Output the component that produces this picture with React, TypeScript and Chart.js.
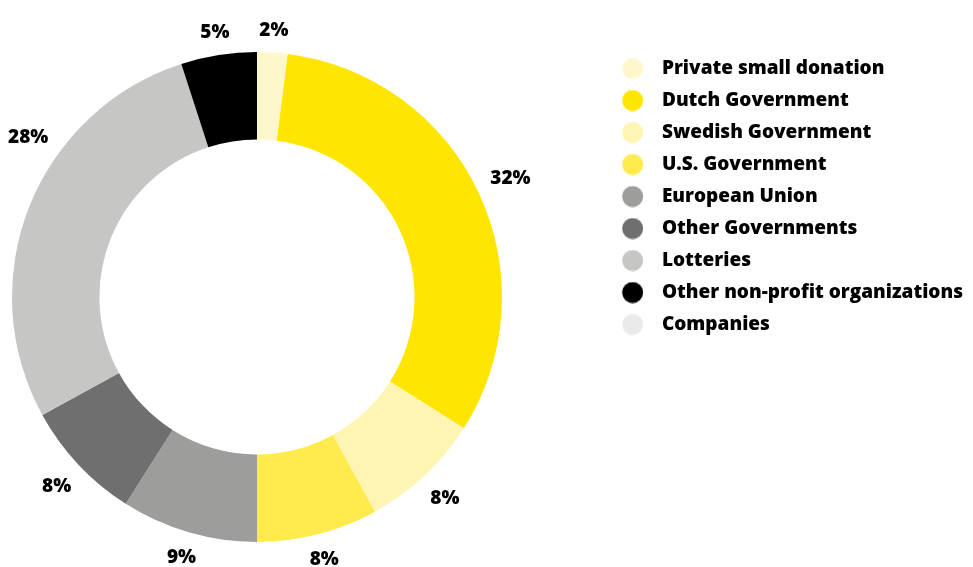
import React, { useEffect, useRef } from 'react';
import { Chart, registerables } from 'chart.js';

Chart.register(...registerables);

// ---- data ----
const categories = [
  'Private small donation',
  'Dutch Government',
  'Swedish Government',
  'U.S. Government',
  'European Union',
  'Other Governments',
  'Lotteries',
  'Other non-profit organizations',
  'Companies',
];
const shares = [2, 32, 8, 8, 9, 8, 28, 5, 0];
const colors = [
  '#FFF7CC',
  '#FFE500',
  '#FFF5B3',
  '#FFEB4D',
  '#9D9D9C',
  '#706F6F',
  '#C6C6C5',
  '#000000',
  '#EAEAEA',
];

// ---- style ----
const W = 973;
const H = 567;
const FONT_FAMILY = '"Open Sans", "Noto Sans", sans-serif';
const FONT_SIZE = 19;
const FONT_WEIGHT = 800;
const LEGEND_PAD = 13;
const TEXT_START = 662; // where legend text should begin
const AREA_LEFT = 12;
const AREA_RIGHT = 502;

function circleImage(color: string) {
  const c = document.createElement('canvas');
  c.width = 60;
  c.height = 22;
  const g = c.getContext('2d')!;
  g.fillStyle = color;
  g.beginPath();
  g.arc(19.7, 11, 10.5, 0, Math.PI * 2);
  g.fill();
  return c;
}

const pctLabels = {
  id: 'pctLabels',
  afterDatasetsDraw(chart: any) {
    const ctx = chart.ctx;
    const meta = chart.getDatasetMeta(0);
    const data = chart.data.datasets[0].data as number[];
    ctx.save();
    ctx.font = `normal ${FONT_WEIGHT} ${FONT_SIZE}px ${FONT_FAMILY}`;
    ctx.fillStyle = '#000';
    ctx.textAlign = 'center';
    ctx.textBaseline = 'middle';
    meta.data.forEach((arc: any, i: number) => {
      const v = data[i];
      if (!v) return;
      const { x, y, startAngle, endAngle, outerRadius } = arc.getProps(
        ['x', 'y', 'startAngle', 'endAngle', 'outerRadius'],
        true
      );
      const text = v + '%';
      const hw = ctx.measureText(text).width / 2;
      const hh = 9;
      const mid = (startAngle + endAngle) / 2;
      const place = (a: number) => {
        const c = Math.cos(a);
        const s = Math.sin(a);
        const d = outerRadius + 13 + Math.abs(c) * hw + Math.abs(s) * hh;
        return [x + c * d, y + s * d];
      };
      const fits = (p: number[]) =>
        p[0] - hw >= 8 && p[0] + hw <= chart.width - 8 && p[1] - 7 >= 0 && p[1] + 7 <= chart.height;
      let pos = place(mid);
      if (!fits(pos)) {
        for (let k = 1; k <= 120; k++) {
          const d = (k * Math.PI) / 360;
          const p1 = place(mid + d);
          if (fits(p1)) { pos = p1; break; }
          const p2 = place(mid - d);
          if (fits(p2)) { pos = p2; break; }
        }
      }
      ctx.fillText(text, pos[0], pos[1] + 1);
    });
    ctx.restore();
  },
};

export default function App() {
  const ref = useRef<HTMLCanvasElement>(null);

  useEffect(() => {
    document.body.style.margin = '0';
    const canvas = ref.current;
    if (!canvas) return;

    const m = document.createElement('canvas').getContext('2d')!;
    m.font = `normal ${FONT_WEIGHT} ${FONT_SIZE}px ${FONT_FAMILY}`;
    const textW = Math.max(...categories.map((c) => m.measureText(c).width));
    const padR = Math.max(0, W - 10 - textW - TEXT_START);
    const legendW = LEGEND_PAD + FONT_SIZE + FONT_SIZE / 2 + textW + 10;
    const spacerW = Math.max(10, W - padR - legendW - AREA_RIGHT);

    const images = colors.map(circleImage);

    const chart = new Chart(canvas, {
      type: 'doughnut',
      data: {
        labels: categories,
        datasets: [
          {
            data: shares,
            backgroundColor: colors,
            borderWidth: 0,
          },
        ],
      },
      options: {
        responsive: false,
        animation: false,
        devicePixelRatio: 1,
        events: [],
        cutout: '64.3%',
        layout: {
          padding: { left: AREA_LEFT, right: padR, top: 46, bottom: 19 },
        },
        plugins: {
          tooltip: { enabled: false },
          title: {
            display: true,
            text: ' ',
            position: 'right',
            weight: 500,
            font: { size: 10, lineHeight: 1 },
            padding: { top: spacerW - 10, bottom: 0, left: 0, right: 0 },
          },
          legend: {
            display: true,
            position: 'right',
            align: 'start',
            maxWidth: 800,
            labels: {
              usePointStyle: true,
              boxWidth: FONT_SIZE,
              boxHeight: FONT_SIZE,
              padding: LEGEND_PAD,
              color: '#000',
              font: { family: FONT_FAMILY, size: FONT_SIZE, weight: FONT_WEIGHT },
              generateLabels: () =>
                categories.map((c, i) => ({
                  text: c,
                  fillStyle: colors[i],
                  strokeStyle: colors[i],
                  lineWidth: 0,
                  pointStyle: images[i],
                  hidden: false,
                  index: i,
                  fontColor: '#000',
                })),
            },
          },
        },
      } as any,
      plugins: [pctLabels],
    });

    return () => chart.destroy();
  }, []);

  return (
    <div style={{ width: W, height: H }}>
      <canvas ref={ref} width={W} height={H} style={{ display: 'block' }} />
    </div>
  );
}
